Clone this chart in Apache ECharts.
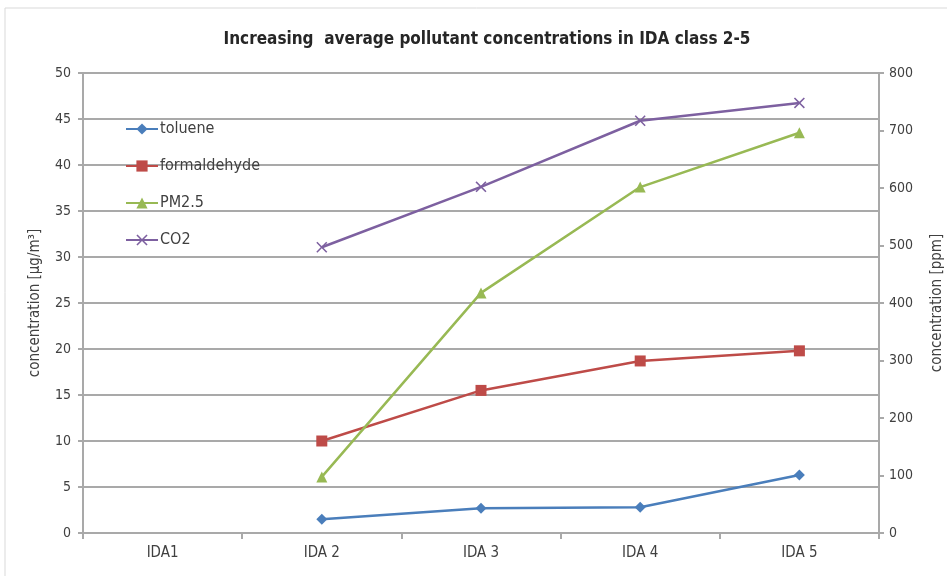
<!DOCTYPE html>
<html>
<head>
<meta charset="utf-8">
<script src="https://cdn.jsdelivr.net/npm/echarts@6/dist/echarts.min.js"></script>
<style>
  html, body { margin: 0; padding: 0; background: #ffffff; }
  #chart { width: 947px; height: 576px; }
</style>
</head>
<body>
<div id="chart"></div>
<script>
// IDA classes and average pollutant concentrations
const categories = ['IDA1', 'IDA 2', 'IDA 3', 'IDA 4', 'IDA 5'];
const toluene = [null, 1.5, 2.7, 2.8, 6.3];          // µg/m³
const formaldehyde = [null, 10.0, 15.5, 18.7, 19.8]; // µg/m³
const pm25 = [null, 6.1, 26.1, 37.6, 43.5];          // µg/m³
const co2 = [null, 497, 602, 717, 748];              // ppm

const leftTicks = { min: 0, max: 50, interval: 5 };
const rightTicks = { min: 0, max: 800, interval: 100 };

const FONT = '"Liberation Sans Narrow", "DejaVu Sans Condensed", "Liberation Sans", sans-serif';
const TEXT = '#404040';
const GRID = '#a9a9a9';

const crossSymbol = 'path://M0,1L1,0L5,4L9,0L10,1L6,5L10,9L9,10L5,6L1,10L0,9L4,5Z';

const chart = echarts.init(document.getElementById('chart'), null, { renderer: 'canvas' });

function lineSeries(name, data, color, symbol, size, axisIndex) {
  return {
    name: name,
    type: 'line',
    data: data,
    yAxisIndex: axisIndex,
    symbol: symbol,
    symbolSize: size,
    showSymbol: true,
    connectNulls: false,
    lineStyle: { color: color, width: 2.5 },
    itemStyle: { color: color, borderColor: color, borderWidth: 0 },
    emphasis: { disabled: true },
    animation: false
  };
}

chart.setOption({
  backgroundColor: '#ffffff',
  animation: false,
  graphic: [{
    type: 'rect',
    shape: { x: 5, y: 8, width: 960, height: 600 },
    style: { fill: 'none', stroke: '#d9d9d9', lineWidth: 1 },
    silent: true
  }],
  title: {
    text: 'Increasing  average pollutant concentrations in IDA class 2-5',
    left: 482,
    textAlign: 'center',
    top: 26,
    textStyle: { fontFamily: FONT, fontSize: 17, fontWeight: 'bold', color: '#262626' }
  },
  legend: {
    orient: 'vertical',
    left: 120,
    top: 116,
    itemWidth: 32,
    itemHeight: 14,
    itemGap: 21,
    textStyle: { fontFamily: FONT, fontSize: 16, color: TEXT, padding: [0, 0, 0, -3] },
    data: ['toluene', 'formaldehyde', 'PM2.5', 'CO2']
  },
  grid: { left: 83, right: 68, top: 73, bottom: 43, containLabel: false, outerBoundsMode: 'none' },
  xAxis: {
    type: 'category',
    data: categories,
    boundaryGap: true,
    axisLine: { lineStyle: { color: GRID, width: 2 } },
    axisTick: { show: true, alignWithLabel: false, length: 6, lineStyle: { color: GRID, width: 2 } },
    axisLabel: { margin: 13, fontFamily: FONT, fontSize: 15, color: TEXT },
    splitLine: { show: false }
  },
  yAxis: [{
    type: 'value',
    position: 'left',
    min: leftTicks.min, max: leftTicks.max, interval: leftTicks.interval,
    name: 'concentration [µg/m³]',
    nameLocation: 'middle',
    nameRotate: 90,
    nameGap: 40,
    nameTextStyle: { fontFamily: FONT, fontSize: 15, color: TEXT },
    axisLine: { show: true, lineStyle: { color: GRID, width: 2 } },
    axisTick: { show: true, length: 5, lineStyle: { color: GRID, width: 2 } },
    axisLabel: { margin: 12, fontFamily: FONT, fontSize: 14, color: TEXT },
    splitLine: { show: true, lineStyle: { color: GRID, width: 2 } }
  }, {
    type: 'value',
    position: 'right',
    min: rightTicks.min, max: rightTicks.max, interval: rightTicks.interval,
    name: 'concentration [ppm]',
    nameLocation: 'middle',
    nameRotate: 90,
    nameGap: 51,
    nameTextStyle: { fontFamily: FONT, fontSize: 15, color: TEXT },
    axisLine: { show: true, lineStyle: { color: GRID, width: 2 } },
    axisTick: { show: true, length: 5, lineStyle: { color: GRID, width: 2 } },
    axisLabel: { margin: 10, fontFamily: FONT, fontSize: 14, color: TEXT },
    splitLine: { show: false }
  }],
  series: [
    lineSeries('toluene', toluene, '#4a7ebb', 'diamond', 11, 0),
    lineSeries('formaldehyde', formaldehyde, '#be4b48', 'rect', 11, 0),
    lineSeries('PM2.5', pm25, '#98b954', 'triangle', 11, 0),
    lineSeries('CO2', co2, '#7d60a0', crossSymbol, 11, 1)
  ]
});
</script>
</body>
</html>
